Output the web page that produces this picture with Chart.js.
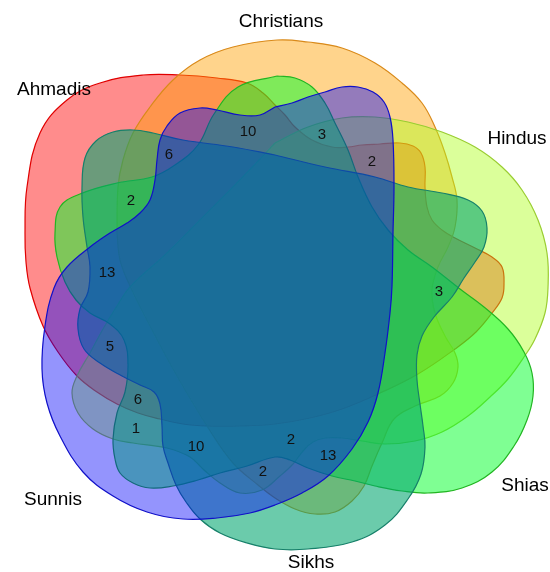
<!DOCTYPE html>
<html>
<head>
<meta charset="utf-8">
<script src="https://cdn.jsdelivr.net/npm/chart.js@4.4.1/dist/chart.umd.min.js"></script>
<style>
  html, body { margin: 0; padding: 0; background: #ffffff; }
  #wrap { width: 550px; height: 572px; }
</style>
</head>
<body>
<div id="wrap"><canvas id="venn" width="550" height="572"></canvas></div>
<script>
// Six-set Venn diagram: set names and the counts shown in the labelled regions
const setNames = ['Ahmadis', 'Christians', 'Hindus', 'Shias', 'Sikhs', 'Sunnis'];
const regionCounts = [10, 3, 2, 6, 2, 13, 5, 6, 1, 10, 2, 2, 13, 3];

// Where each count sits (x, y in diagram units)
const regionLabelPos = [
  [248, 132], [322, 135], [372, 162], [169, 155], [131, 201], [107, 273], [110, 347],
  [138, 400], [136, 429], [196, 447], [263, 472], [291, 440], [328, 456], [439, 292]
];
// Where each set name sits
const setLabelPos = [[54, 90], [281, 22], [517, 139], [525, 486], [311, 563], [53, 500]];

// Outline of each set (closed curves, diagram units)
const outlineAhmadis = [
  [275,105],[263,93],[247,83],[217,78],[180,75],[143,75],[100,83],[67,100],[40,133],[27,187],
  [25,233],[26,262],[30,288],[43,326],[58,352],[77,376],[97,392],[117,404],[138,413],[160,419],
  [183,424],[207,426],[240,426],[275,424],[310,418],[342,409],[378,394],[418,374],[455,349],
  [476,332],[492,313],[502,298],[504,284],[502,267],[492,257],[475,248],[455,238],[442,230],
  [432,220],[427,207],[425,187],[425,167],[421,153],[413,146],[400,143],[380,144],[362,145],
  [348,147],[332,147],[312,140],[295,127],[285,115],[275,105]
];
const outlineChristians = [
  [117,233],[118,187],[123,160],[133,133],[150,107],[173,80],[200,60],[233,47],[277,40],
  [308,42],[342,48],[375,63],[402,83],[422,103],[435,127],[445,153],[452,177],[457,200],
  [455,227],[448,247],[438,267],[432,290],[435,313],[445,336],[455,353],[458,367],[453,383],
  [440,396],[415,406],[394,419],[382,443],[372,466],[364,486],[352,501],[335,512],[315,514],
  [295,509],[275,498],[258,485],[233,463],[207,426],[177,376],[150,326],[130,286],[120,260],[117,233]
];
const outlineHindus = [
  [275,143],[308,127],[342,118],[375,117],[408,122],[442,132],[475,147],[502,167],[522,190],
  [538,220],[547,253],[548,288],[545,313],[535,339],[524,357],[508,379],[490,397],[468,416],
  [442,432],[415,441],[385,444],[362,441],[342,438],[325,438],[313,442],[303,451],[293,464],
  [280,476],[262,490],[240,493],[220,483],[203,469],[190,457],[167,448],[133,443],[113,439],
  [93,429],[78,413],[72,393],[77,376],[90,353],[103,329],[117,306],[130,287],[167,253],
  [200,220],[233,187],[262,157],[275,143]
];
const outlineShias = [
  [277,76],[295,78],[312,87],[325,103],[335,123],[348,150],[358,177],[372,207],[388,230],
  [408,250],[432,267],[460,289],[484,307],[508,329],[524,352],[532,373],[533,396],[527,420],
  [514,446],[492,472],[462,488],[428,493],[402,491],[375,486],[355,481],[332,476],[308,468],
  [290,460],[275,457],[247,466],[220,473],[198,480],[173,486],[150,488],[133,483],[120,473],
  [115,459],[113,439],[117,413],[125,392],[128,365],[124,340],[110,324],[90,313],[76,300],
  [65,282],[57,257],[55,233],[60,207],[80,194],[117,183],[152,177],[175,165],[198,145],
  [214,114],[238,87],[277,76]
];
const outlineSikhs = [
  [275,155],[325,167],[375,177],[408,187],[442,193],[468,200],[482,211],[487,228],[484,247],
  [475,262],[464,278],[452,297],[434,317],[422,336],[417,355],[417,380],[420,404],[423,426],
  [425,447],[421,474],[408,499],[385,525],[352,542],[308,549],[275,549],[247,543],[220,533],
  [200,519],[186,502],[176,485],[168,463],[163,446],[162,426],[160,404],[154,392],[140,385],
  [122,376],[100,363],[84,349],[78,329],[80,309],[88,292],[90,267],[87,247],[83,217],[82,187],
  [85,158],[96,141],[113,132],[133,130],[153,133],[183,140],[233,147],[275,155]
];
const outlineSunnis = [
  [275,107],[260,115],[240,115],[217,110],[200,108],[180,113],[167,126],[160,140],[157,160],
  [155,180],[150,200],[140,213],[127,223],[110,233],[90,247],[67,267],[54,288],[45,326],
  [42,369],[47,403],[60,436],[83,472],[113,496],[147,512],[183,519],[217,518],[250,513],
  [275,505],[302,493],[328,476],[352,449],[368,422],[378,393],[385,353],[390,313],[392,286],
  [393,233],[394,187],[393,140],[390,117],[384,102],[373,92],[358,87],[342,87],[325,92],
  [308,97],[292,103],[275,107]
];

const outlines = [outlineAhmadis, outlineChristians, outlineHindus, outlineShias, outlineSikhs, outlineSunnis];
const fillColors = [
  'rgba(255,0,0,0.45)', 'rgba(255,160,0,0.45)', 'rgba(175,255,30,0.45)',
  'rgba(0,255,40,0.5)', 'rgba(0,165,110,0.58)', 'rgba(0,0,250,0.42)'
];
const lineColors = ['#e00000', '#d98a1a', '#9acd32', '#22b522', '#17806a', '#1010c8'];

const datasets = outlines.map((pts, i) => ({
  label: setNames[i],
  data: pts.map(([x, y]) => ({ x, y })),
  showLine: true,
  fill: 'shape',
  backgroundColor: fillColors[i],
  borderColor: lineColors[i],
  borderWidth: 1.2,
  pointRadius: 0,
  tension: 0.4,
  // later sets are painted over earlier ones
  order: outlines.length - 1 - i
}));

// Draws set names and region counts at positions mapped through the chart scales
const vennLabels = {
  id: 'vennLabels',
  afterDatasetsDraw(chart) {
    const { ctx, scales: { x, y } } = chart;
    ctx.save();
    ctx.textAlign = 'center';
    ctx.textBaseline = 'middle';
    ctx.fillStyle = '#111111';
    ctx.font = '15px "Liberation Sans", Arial, sans-serif';
    regionCounts.forEach((v, i) => {
      const [px, py] = regionLabelPos[i];
      ctx.fillText(String(v), x.getPixelForValue(px), y.getPixelForValue(py));
    });
    ctx.fillStyle = '#000000';
    ctx.font = '19px "Liberation Sans", Arial, sans-serif';
    setNames.forEach((name, i) => {
      const [px, py] = setLabelPos[i];
      ctx.fillText(name, x.getPixelForValue(px), y.getPixelForValue(py));
    });
    ctx.restore();
  }
};

new Chart(document.getElementById('venn'), {
  type: 'scatter',
  data: { datasets },
  options: {
    responsive: false,
    animation: false,
    layout: { padding: 0 },
    plugins: { legend: { display: false }, tooltip: { enabled: false } },
    scales: {
      x: { type: 'linear', min: 0, max: 550, display: false },
      y: { type: 'linear', min: 0, max: 572, reverse: true, display: false }
    }
  },
  plugins: [vennLabels]
});
</script>
</body>
</html>
